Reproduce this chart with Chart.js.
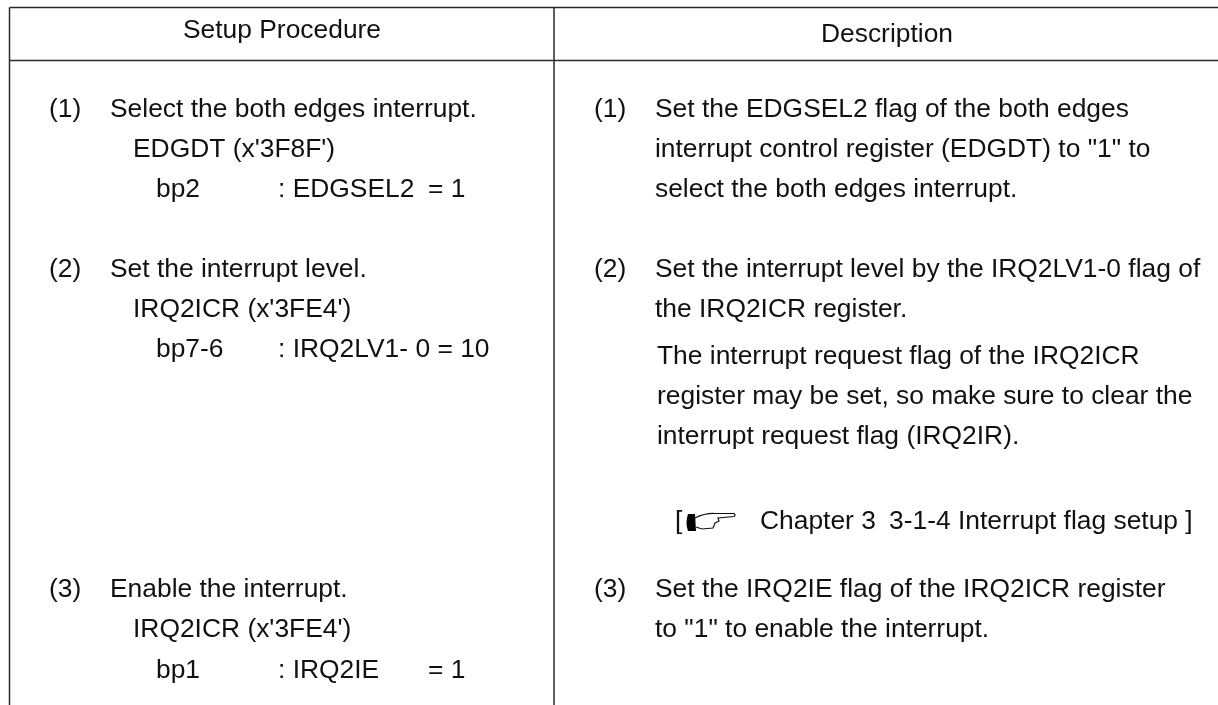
<!DOCTYPE html>
<html>
<head>
<meta charset="utf-8">
<style>
    html, body { margin: 0; padding: 0; background: #fff; }
    canvas { display: block; }
</style>
<script src="https://cdn.jsdelivr.net/npm/chart.js@4"></script>
</head>
<body>
<canvas id="tabela" width="1218" height="705"></canvas>
<script>
// texts of the table, one entry per printed line
const headerTexts = ["Setup Procedure", "Description"];
const procedureTexts = [
    "(1)", "Select the both edges interrupt.", "EDGDT (x'3F8F')", "bp2", ": EDGSEL2", "= 1",
    "(2)", "Set the interrupt level.", "IRQ2ICR (x'3FE4')", "bp7-6", ": IRQ2LV1- 0 = 10",
    "(3)", "Enable the interrupt.", "IRQ2ICR (x'3FE4')", "bp1", ": IRQ2IE", "= 1"
];
const descriptionTexts = [
    "(1)", "Set the EDGSEL2 flag of the both edges",
    "interrupt control register (EDGDT) to \"1\" to",
    "select the both edges interrupt.",
    "(2)", "Set the interrupt level by the IRQ2LV1-0 flag of",
    "the IRQ2ICR register.",
    "The interrupt request flag of the IRQ2ICR",
    "register may be set, so make sure to clear the",
    "interrupt request flag (IRQ2IR).",
    "[", "Chapter 3", "3-1-4 Interrupt flag setup ]",
    "(3)", "Set the IRQ2IE flag of the IRQ2ICR register",
    "to \"1\" to enable the interrupt."
];

// where each line sits on the page scales
const headerCols = [282, 887];
const headerRows = [38, 42];
const procedureCols = [49, 110, 133, 156, 278, 428, 49, 110, 133, 156, 278, 49, 110, 133, 156, 278, 428];
const procedureRows = [117, 117, 157, 197, 197, 197, 277, 277, 317, 357, 357, 597, 597, 637, 678, 678, 678];
const descriptionCols = [594, 655, 655, 655, 594, 655, 655, 657, 657, 657, 675, 760, 889, 594, 655, 655];
const descriptionRows = [117, 117, 157, 197, 277, 277, 317, 364, 404, 444, 529, 529, 529, 597, 597, 637];
const handPoint = [{ x: 711, y: 523 }];

// table rules
const ruleTop = [{ x: 9.5, y: 7.5 }, { x: 1218, y: 7.5 }];
const ruleHeader = [{ x: 9.5, y: 60.5 }, { x: 1218, y: 60.5 }];
const ruleLeft = [{ x: 9.5, y: 7.5 }, { x: 9.5, y: 705 }];
const ruleMiddle = [{ x: 554, y: 7.5 }, { x: 554, y: 705 }];

function zipPoints(cols, rows) {
    return cols.map((x, i) => ({ x, y: rows[i] }));
}

function regra(data) {
    return {
        data,
        showLine: true,
        borderColor: "#2b2b2b",
        borderWidth: 1.5,
        pointRadius: 0,
        clip: false
    };
}

function textos(data, texts, align) {
    return {
        data,
        texts,
        align,
        showLine: false,
        pointRadius: 0
    };
}

function desenharMao() {
    const c = document.createElement("canvas");
    c.width = 52;
    c.height = 22;
    const g = c.getContext("2d");
    g.fillStyle = "#000";
    g.beginPath();
    g.moveTo(3, 2);
    g.lineTo(10, 2);
    g.lineTo(11, 19);
    g.lineTo(3, 19);
    g.quadraticCurveTo(0, 11, 3, 2);
    g.fill();
    g.strokeStyle = "#111";
    g.lineWidth = 1.2;
    g.beginPath();
    g.moveTo(10, 6);
    g.quadraticCurveTo(20, 1, 30, 1.5);
    g.lineTo(49, 1.5);
    g.quadraticCurveTo(51, 3, 49, 4.5);
    g.lineTo(33, 6);
    g.lineTo(34, 9);
    g.lineTo(30, 11);
    g.lineTo(28, 16);
    g.lineTo(17, 17);
    g.lineTo(11, 15);
    g.stroke();
    return c;
}

// draws each line of text at its point, after the scales placed it
const textoPlugin = {
    id: "textoPlugin",
    afterDatasetsDraw(chart) {
        const ctx = chart.ctx;
        ctx.save();
        ctx.fillStyle = "#111";
        ctx.font = "26.4px 'Liberation Sans'";
        ctx.textBaseline = "alphabetic";
        chart.data.datasets.forEach((ds, i) => {
            if (!ds.texts) return;
            ctx.textAlign = ds.align;
            chart.getDatasetMeta(i).data.forEach((pt, j) => {
                ctx.fillText(ds.texts[j], pt.x, pt.y);
            });
        });
        ctx.restore();
    }
};

new Chart(document.getElementById("tabela"), {
    type: "scatter",
    data: {
        datasets: [
            regra(ruleTop),
            regra(ruleHeader),
            regra(ruleLeft),
            regra(ruleMiddle),
            textos(zipPoints(headerCols, headerRows), headerTexts, "center"),
            textos(zipPoints(procedureCols, procedureRows), procedureTexts, "left"),
            textos(zipPoints(descriptionCols, descriptionRows), descriptionTexts, "left"),
            { data: handPoint, pointStyle: desenharMao(), showLine: false }
        ]
    },
    options: {
        responsive: false,
        animation: false,
        layout: { padding: 0, autoPadding: false },
        plugins: {
            legend: { display: false },
            title: { display: false },
            tooltip: { enabled: false }
        },
        scales: {
            x: { type: "linear", min: 0, max: 1218, display: false },
            y: { type: "linear", min: 0, max: 705, reverse: true, display: false }
        }
    },
    plugins: [
        {
            id: "fundo",
            beforeDraw(chart) {
                chart.ctx.fillStyle = "#fff";
                chart.ctx.fillRect(0, 0, chart.width, chart.height);
            }
        },
        textoPlugin
    ]
});
</script>
</body>
</html>
